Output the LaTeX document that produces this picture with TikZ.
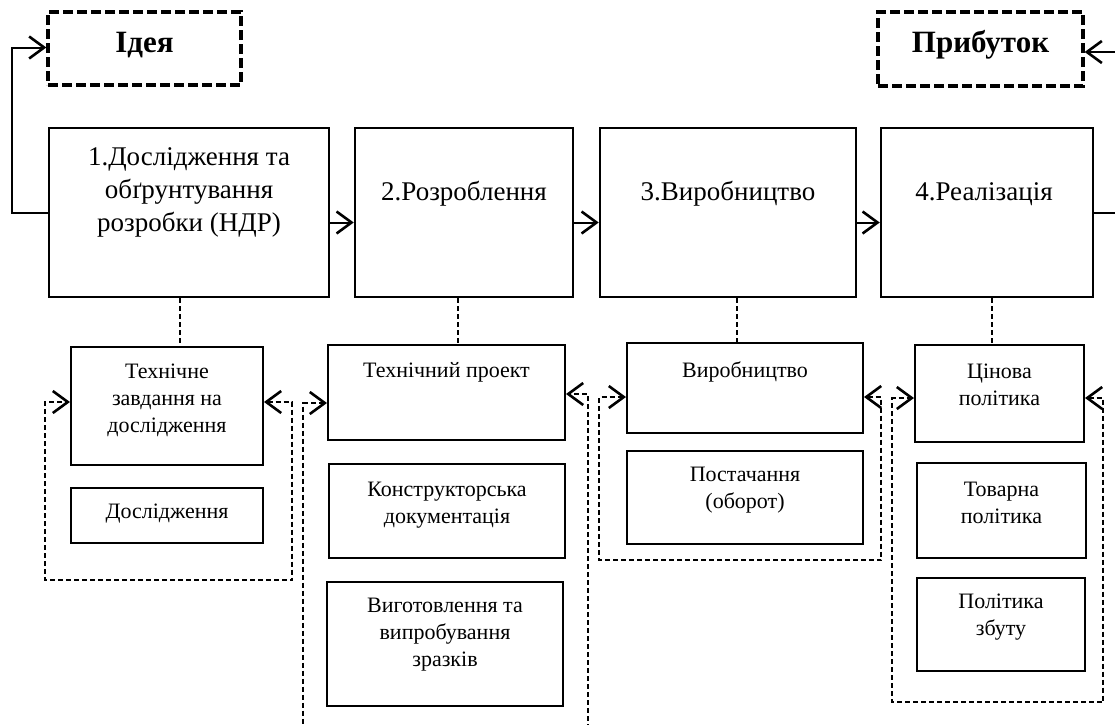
\documentclass[tikz,border=0pt]{standalone}
\usepackage{fontspec}
\setmainfont{Liberation Serif}
\usetikzlibrary{arrows.meta}

\begin{document}
\begin{tikzpicture}[x=1pt,y=-1pt,
  mainbox/.style={draw, line width=2.5pt, inner sep=0pt},
  subbox/.style={draw, line width=2pt, inner sep=0pt},
  goalbox/.style={draw, line width=3.3pt, dash pattern=on 10pt off 4pt, inner sep=0pt},
  maintxt/.style={font=\fontsize{27}{33}\selectfont, align=center, inner sep=0pt},
  subtxt/.style={font=\fontsize{22}{27}\selectfont, align=center, inner sep=0pt},
  goaltxt/.style={font=\fontsize{31}{37}\selectfont\bfseries, inner sep=0pt},
  barb/.tip={Straight Barb[length=15pt,width=22pt,line width=2.6pt]},
  flow/.style={line width=2pt, -barb},
  loopline/.style={line width=1.7pt, dash pattern=on 5pt off 3pt, barb-barb},
  link/.style={line width=1.6pt, dash pattern=on 5pt off 3pt}]
\useasboundingbox (0,0) rectangle (1115,724);

% goal boxes
\node[goalbox, minimum width=193pt, minimum height=73pt] (idea) at (144.5,48.5) {};
\node[goaltxt] (tidea) at (144.5,45) {Ідея};
\node[goalbox, minimum width=205pt, minimum height=74pt] (prib) at (980.5,49) {};
\node[goaltxt] (tprib) at (980.5,45) {Прибуток};

% stages
\node[mainbox, minimum width=280pt, minimum height=169pt] (r1) at (189,212.5) {};
\node[maintxt] (t1) at (189,192) {1.Дослідження та\\обґрунтування\\розробки (НДР)};
\node[mainbox, minimum width=218pt, minimum height=169pt] (r2) at (464,212.5) {};
\node[maintxt] (t2) at (464,194) {2.Розроблення};
\node[mainbox, minimum width=256pt, minimum height=169pt] (r3) at (728,212.5) {};
\node[maintxt] (t3) at (728,194) {3.Виробництво};
\node[mainbox, minimum width=212pt, minimum height=169pt] (r4) at (987,212.5) {};
\node[maintxt] (t4) at (984,194) {4.Реалізація};

% sub boxes
\node[subbox, minimum width=192pt, minimum height=118pt] (s1a) at (167,406) {};
\node[subtxt] at (167,400) {Технічне\\завдання на\\дослідження};
\node[subbox, minimum width=192pt, minimum height=55pt] (s1b) at (167,515.5) {};
\node[subtxt] at (167,514) {Дослідження};

\node[subbox, minimum width=237pt, minimum height=95pt] (s2a) at (446.5,392.5) {};
\node[subtxt] at (446.5,372) {Технічний проект};
\node[subbox, minimum width=236pt, minimum height=94pt] (s2b) at (447,511) {};
\node[subtxt] at (447,505) {Конструкторська\\документація};
\node[subbox, minimum width=236pt, minimum height=124pt] (s2c) at (445,644) {};
\node[subtxt] at (445,635) {Виготовлення та\\випробування\\зразків};

\node[subbox, minimum width=236pt, minimum height=90pt] (s3a) at (745,388) {};
\node[subtxt] at (745,372) {Виробництво};
\node[subbox, minimum width=236pt, minimum height=93pt] (s3b) at (745,497.5) {};
\node[subtxt] at (745,490) {Постачання\\(оборот)};

\node[subbox, minimum width=169pt, minimum height=97pt] (s4a) at (999.5,393.5) {};
\node[subtxt] at (999.5,385) {Цінова\\політика};
\node[subbox, minimum width=169pt, minimum height=95pt] (s4b) at (1001.5,510.5) {};
\node[subtxt] at (1001.5,503) {Товарна\\політика};
\node[subbox, minimum width=168pt, minimum height=93pt] (s4c) at (1001,624.5) {};
\node[subtxt] at (1001,617) {Політика\\збуту};

% main flow
\draw[flow] ([yshift=-10pt]r1.east) -- ([yshift=-10pt]r2.west);
\draw[flow] ([yshift=-10pt]r2.east) -- ([yshift=-10pt]r3.west);
\draw[flow] ([yshift=-10pt]r3.east) -- ([yshift=-10pt]r4.west);
\draw[flow] (r1.west) -- ++(-36,0) |- ([yshift=1pt]idea.west);
\draw[flow] (r4.east) -- ++(23,0) |- ([yshift=-3pt]prib.east);

% links to sub boxes
\draw[link] ([xshift=-9pt]r1.south) -- ([xshift=-9pt]r1.south |- s1a.north);
\draw[link] ([xshift=-6pt]r2.south) -- ([xshift=-6pt]r2.south |- s2a.north);
\draw[link] ([xshift=9pt]r3.south) -- ([xshift=9pt]r3.south |- s3a.north);
\draw[link] ([xshift=5pt]r4.south) -- ([xshift=5pt]r4.south |- s4a.north);

% feedback loops
\coordinate (l1a) at (45,402);
\coordinate (l1b) at (292,580);
\draw[loopline] (s1a.east |- l1a) -- (l1b |- l1a) -- (l1b) -- (l1a |- l1b) -- (l1a) -- (s1a.west |- l1a);

\coordinate (l2a) at (303,403);
\coordinate (l2b) at (588,394);
\coordinate (l2c) at (0,745);
\draw[loopline] (s2a.west |- l2a) -- (l2a) -- (l2a |- l2c) -- (l2b |- l2c) -- (l2b) -- (s2a.east |- l2b);

\coordinate (l3a) at (599,397);
\coordinate (l3b) at (881,560);
\draw[loopline] (s3a.east |- l3a) -- (l3b |- l3a) -- (l3b) -- (l3a |- l3b) -- (l3a) -- (s3a.west |- l3a);

\coordinate (l4a) at (892,398);
\coordinate (l4b) at (1103,702);
\draw[loopline] (s4a.east |- l4a) -- (l4b |- l4a) -- (l4b) -- (l4a |- l4b) -- (l4a) -- (s4a.west |- l4a);
\end{tikzpicture}
\end{document}
